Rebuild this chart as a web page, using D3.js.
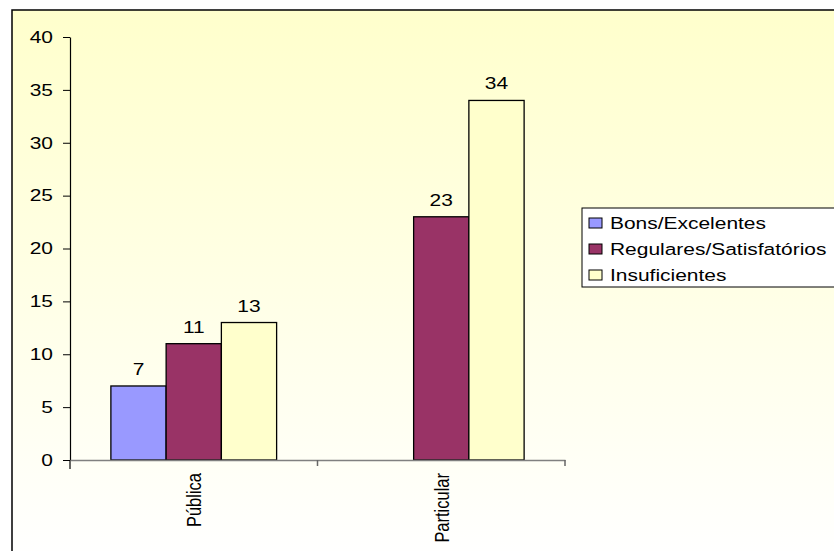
<!DOCTYPE html>
<html>
<head>
<meta charset="utf-8">
<script src="https://cdn.jsdelivr.net/npm/d3@7"></script>
<style>
  body { margin: 0; background: #fff; }
  svg { display: block; font-family: "Liberation Sans", Arial, sans-serif; }
</style>
</head>
<body>
<div id="chart"></div>
<script>
// Chart data
const categories = ["Pública", "Particular"];
const seriesNames = ["Bons/Excelentes", "Regulares/Satisfatórios", "Insuficientes"];
const seriesColors = ["#9999FF", "#993366", "#FFFFCC"];
const bons = [7, 0];
const regulares = [11, 23];
const insuficientes = [13, 34];
const yTicks = [0, 5, 10, 15, 20, 25, 30, 35, 40];

const seriesValues = [bons, regulares, insuficientes];

const W = 834, H = 551;
const plot = {left: 70, right: 565, top: 37, bottom: 460};
const fontSize = 16.5;
const sx = 1.27; // the original text looks stretched sideways

const svg = d3.select("#chart")
    .append("svg")
    .attr("width", W)
    .attr("height", H);

// Background gradient
const grad = svg.append("defs").append("linearGradient")
    .attr("id", "bg")
    .attr("x1", 0).attr("y1", 0).attr("x2", 0).attr("y2", 1);
grad.append("stop").attr("offset", "0%").attr("stop-color", "#FFFFCC");
grad.append("stop").attr("offset", "100%").attr("stop-color", "#FFFFFF");

svg.append("rect")
    .attr("x", 12).attr("y", 10)
    .attr("width", W).attr("height", H)
    .attr("fill", "url(#bg)")
    .attr("stroke", "#000")
    .attr("stroke-width", 1.5);

// Scales
const x = d3.scaleBand()
    .domain(categories)
    .range([plot.left, plot.right]);

const xInner = d3.scaleBand()
    .domain(seriesNames)
    .range([0, x.bandwidth()])
    .paddingOuter(0.74);

const y = d3.scaleLinear()
    .domain([0, 40])
    .range([plot.bottom, plot.top]);

// Y axis
const yAxis = svg.append("g")
    .attr("transform", `translate(${plot.left},0)`)
    .call(d3.axisLeft(y).tickValues(yTicks).tickSize(7).tickSizeOuter(0));
yAxis.select(".domain").attr("stroke", "#000").attr("stroke-width", 1.2);
yAxis.selectAll(".tick line").attr("stroke", "#000");
yAxis.selectAll("text")
    .attr("font-size", fontSize)
    .attr("font-family", "Liberation Sans, Arial, sans-serif")
    .attr("fill", "#000")
    .attr("x", -17 / sx)
    .attr("transform", `scale(${sx},1)`);

// extend the y axis line a little under the x axis
svg.append("line")
    .attr("x1", plot.left).attr("x2", plot.left)
    .attr("y1", plot.bottom).attr("y2", plot.bottom + 9)
    .attr("stroke", "#000")
    .attr("stroke-width", 1.2);

// Bars
seriesNames.forEach((name, si) => {
    const rows = categories.map((c, ci) => ({cat: c, value: seriesValues[si][ci]})).filter(d => d.value > 0);

    svg.append("g")
        .selectAll("rect")
        .data(rows)
        .join("rect")
        .attr("x", d => x(d.cat) + xInner(name))
        .attr("y", d => y(d.value))
        .attr("width", xInner.bandwidth())
        .attr("height", d => y(0) - y(d.value))
        .attr("fill", seriesColors[si])
        .attr("stroke", "#000")
        .attr("stroke-width", 1.3);

    svg.append("g")
        .selectAll("text")
        .data(rows)
        .join("text")
        .attr("transform", d => `translate(${x(d.cat) + xInner(name) + xInner.bandwidth() / 2},${y(d.value) - 11}) scale(${sx},1)`)
        .attr("text-anchor", "middle")
        .attr("font-size", fontSize)
        .attr("fill", "#000")
        .text(d => d.value);
});

// X axis
const xAxis = svg.append("g")
    .attr("transform", `translate(0,${plot.bottom})`)
    .call(d3.axisBottom(x).tickSize(0).tickSizeOuter(0));
xAxis.select(".domain").attr("stroke", "#808080").attr("stroke-width", 1.5);
xAxis.selectAll("text")
    .attr("font-size", fontSize)
    .attr("font-family", "Liberation Sans, Arial, sans-serif")
    .attr("fill", "#000")
    .attr("transform", `scale(${sx},1) rotate(-90)`)
    .attr("text-anchor", "end")
    .attr("x", -13)
    .attr("y", 0)
    .attr("dy", "0.35em");

// Category separator ticks
const sepTicks = [x(categories[1]), plot.right];
svg.append("g")
    .selectAll("line")
    .data(sepTicks)
    .join("line")
    .attr("x1", d => d).attr("x2", d => d)
    .attr("y1", plot.bottom).attr("y2", plot.bottom + 6)
    .attr("stroke", "#666")
    .attr("stroke-width", 1.5);

// Legend
const legend = svg.append("g").attr("transform", "translate(582,208)");
legend.append("rect")
    .attr("x", 0).attr("y", 0)
    .attr("width", 300).attr("height", 79)
    .attr("fill", "#fff")
    .attr("stroke", "#000")
    .attr("stroke-width", 1);

seriesNames.forEach((name, i) => {
    const row = legend.append("g").attr("transform", `translate(0,${15 + i * 26})`);
    row.append("rect")
        .attr("x", 7).attr("y", -5)
        .attr("width", 13).attr("height", 10)
        .attr("fill", seriesColors[i])
        .attr("stroke", "#000");
    row.append("text")
        .attr("transform", `translate(28,0) scale(${sx},1)`)
        .attr("dy", "0.35em")
        .attr("font-size", fontSize)
        .attr("fill", "#000")
        .text(name);
});
</script>
</body>
</html>
